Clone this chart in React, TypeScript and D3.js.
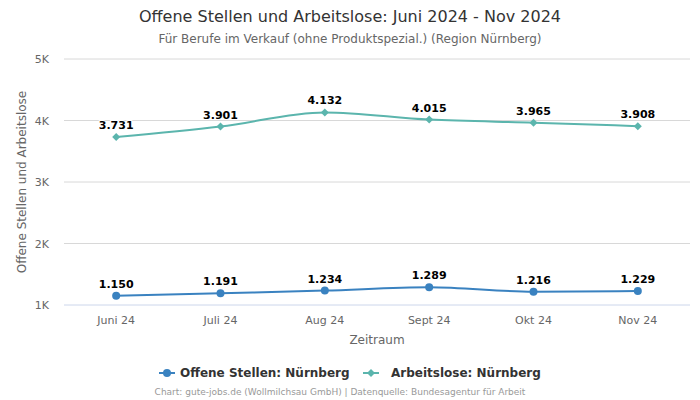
import React from "react";
import * as d3 from "d3";

const categories = ["Juni 24", "Juli 24", "Aug 24", "Sept 24", "Okt 24", "Nov 24"];
const offeneStellen = [1150, 1191, 1234, 1289, 1216, 1229];
const arbeitslose = [3731, 3901, 4132, 4015, 3965, 3908];
const yTicks = [1000, 2000, 3000, 4000, 5000];
const yTickLabels = ["1K", "2K", "3K", "4K", "5K"];

const W = 700, H = 400;
const left = 64, right = 690, top = 59, bottom = 305;
const font = "DejaVu Sans, sans-serif";
const blue = "#3a82c0";
const teal = "#5bb5ad";

const fmt = (v: number) => d3.format(",")(v).replace(",", ".");

export default function App() {
  const x = d3.scaleBand<string>().domain(categories).range([left, right]);
  const cx = (c: string) => (x(c) as number) + x.bandwidth() / 2;
  const y = d3.scaleLinear().domain([1000, 5000]).range([bottom, top]);
  const line = d3
    .line<number>()
    .x((_, i) => cx(categories[i]))
    .y((d) => y(d))
    .curve(d3.curveMonotoneX);

  const series = [
    { name: "Offene Stellen: Nürnberg", data: offeneStellen, color: blue, marker: "circle" },
    { name: "Arbeitslose: Nürnberg", data: arbeitslose, color: teal, marker: "diamond" },
  ];

  return (
    <svg width={W} height={H} style={{ display: "block", position: "absolute", left: 0, top: 0 }} fontFamily={font}>
      <rect width={W} height={H} fill="#fff" />
      <text x={W / 2} y={22} textAnchor="middle" fontSize={16} fill="#333">
        Offene Stellen und Arbeitslose: Juni 2024 - Nov 2024
      </text>
      <text x={W / 2} y={43} textAnchor="middle" fontSize={12} fill="#666">
        Für Berufe im Verkauf (ohne Produktspezial.) (Region Nürnberg)
      </text>
      {yTicks.map((t, i) => (
        <g key={t}>
          <line x1={left} x2={right} y1={y(t)} y2={y(t)} stroke={i === 0 ? "#ccd6eb" : "#d8d8d8"} strokeWidth={1} />
          <text x={49} y={y(t) + 4} textAnchor="end" fontSize={11} fill="#666">
            {yTickLabels[i]}
          </text>
        </g>
      ))}
      <text
        transform={`translate(26,${(top + bottom) / 2}) rotate(-90)`}
        textAnchor="middle"
        fontSize={12}
        fill="#666"
      >
        Offene Stellen und Arbeitslose
      </text>
      {categories.map((c) => (
        <text key={c} x={cx(c)} y={324} textAnchor="middle" fontSize={11} fill="#666">
          {c}
        </text>
      ))}
      <text x={(left + right) / 2} y={344} textAnchor="middle" fontSize={12} fill="#666">
        Zeitraum
      </text>
      {series.map((s) => (
        <g key={s.name}>
          <path d={line(s.data) as string} fill="none" stroke={s.color} strokeWidth={2} />
          {s.data.map((v, i) => {
            const px = cx(categories[i]);
            const py = y(v);
            return (
              <g key={i}>
                {s.marker === "circle" ? (
                  <circle cx={px} cy={py} r={4} fill={s.color} />
                ) : (
                  <path d={`M${px},${py - 4}L${px + 4},${py}L${px},${py + 4}L${px - 4},${py}Z`} fill={s.color} />
                )}
                <text
                  x={px}
                  y={py - 8}
                  textAnchor="middle"
                  fontSize={11}
                  fontWeight="bold"
                  fill="#000"
                  stroke="#fff"
                  strokeWidth={2}
                  paintOrder="stroke"
                >
                  {fmt(v)}
                </text>
              </g>
            );
          })}
        </g>
      ))}
      <g>
        <line x1={159} x2={175} y1={373} y2={373} stroke={blue} strokeWidth={2} />
        <circle cx={167} cy={373} r={4} fill={blue} />
        <text x={180} y={377} fontSize={12} fontWeight="bold" fill="#333">
          Offene Stellen: Nürnberg
        </text>
        <line x1={363} x2={379} y1={373} y2={373} stroke={teal} strokeWidth={2} />
        <path d="M371,369L375,373L371,377L367,373Z" fill={teal} />
        <text x={391} y={377} fontSize={12} fontWeight="bold" fill="#333">
          Arbeitslose: Nürnberg
        </text>
      </g>
      <text x={340} y={395} textAnchor="middle" fontSize={9} fill="#999">
        Chart: gute-jobs.de (Wollmilchsau GmbH) | Datenquelle: Bundesagentur für Arbeit
      </text>
    </svg>
  );
}
